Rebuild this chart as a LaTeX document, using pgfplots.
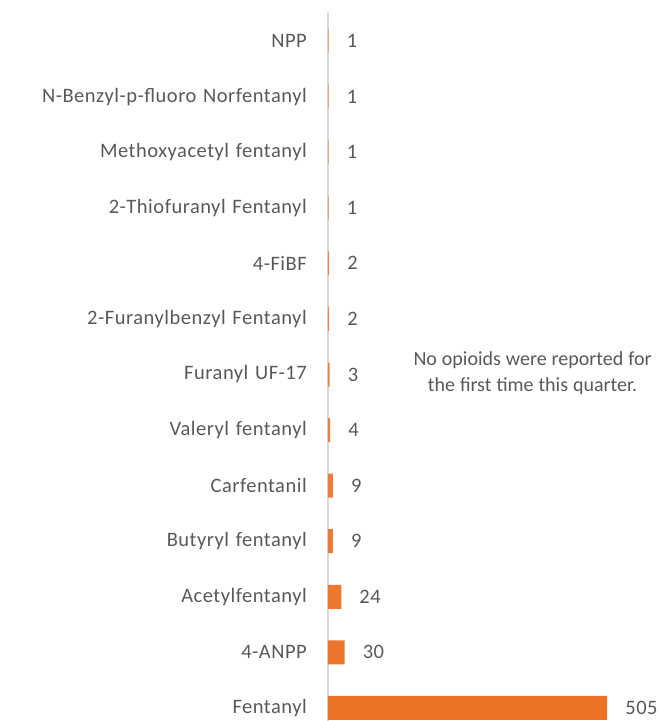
\documentclass[border=0pt]{standalone}
\usepackage{pgfplots}
\pgfplotsset{compat=1.18}
\usepackage{fontspec}
\setmainfont{Carlito}[LetterSpace=2.5,WordSpace=1.3]
\newfontfamily\plainfont{Carlito}[WordSpace=1.1]
\definecolor{txt}{HTML}{595959}
\definecolor{axl}{HTML}{D9D9D9}
\definecolor{bartop}{HTML}{F39157}
\definecolor{barbot}{HTML}{EB7225}
\begin{document}
\begin{tikzpicture}
\path[use as bounding box] (0,0) rectangle (658pt,721pt);
\begin{axis}[
  at={(328pt,0pt)}, anchor=south west,
  scale only axis, width=330pt, height=709pt,
  xmin=0, xmax=597, ymin=-0.234, ymax=12.522,
  xbar, bar width=24pt,
  axis x line=none,
  axis y line*=left,
  y axis line style={draw=axl, line width=1.5pt},
  ytick={0,...,12},
  yticklabels={Fentanyl,4-ANPP,Acetylfentanyl,Butyryl fentanyl,Carfentanil,Valeryl fentanyl,Furanyl UF-17,2-Furanylbenzyl Fentanyl,4-FiBF,2-Thiofuranyl Fentanyl,Methoxyacetyl fentanyl,N-Benzyl-p-fluoro Norfentanyl,NPP},
  major tick length=0pt,
  yticklabel style={font=\fontsize{20.5}{24}\selectfont, text=txt, inner sep=0pt, xshift=-21pt},
  nodes near coords,
  nodes near coords style={font=\fontsize{20.5}{24}\selectfont, text=txt, anchor=west, inner sep=0pt, xshift=18pt},
  /pgf/number format/assume math mode=true,
  clip=false,
]
\addplot[draw=none, top color=bartop, bottom color=barbot] coordinates {
(505,0) (30,1) (24,2) (9,3) (9,4) (4,5) (3,6) (2,7) (2,8) (1,9) (1,10) (1,11) (1,12)
};
\node[font=\plainfont\fontsize{20}{26}\selectfont, text=txt, align=center, inner sep=0pt] at (axis cs:370,6.03) {No opioids were reported for\\the first time this quarter.};
\end{axis}
\end{tikzpicture}
\end{document}
